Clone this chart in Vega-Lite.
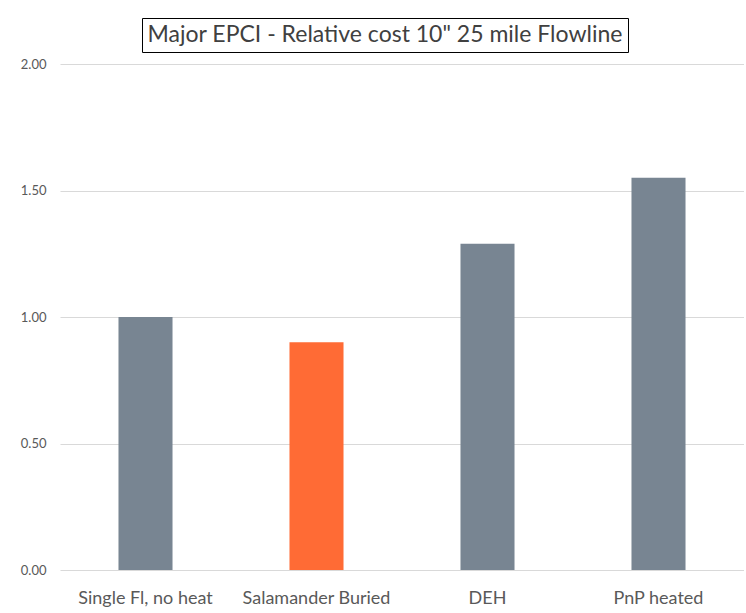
{
  "$schema": "https://vega.github.io/schema/vega-lite/v6.json",
  "padding": {"left": 20, "top": 17, "right": 0, "bottom": 0},
  "background": "white",
  "config": {"font": "Lato", "view": {"stroke": null}},
  "spacing": 5,
  "vconcat": [
    {
      "spacing": 10,
      "hconcat": [
        {
          "width": 71,
          "height": 34,
          "data": {"values": []},
          "mark": {"type": "text"},
          "encoding": {}
        },
        {
          "width": 486,
          "height": 34,
          "view": {"stroke": "#000000", "strokeWidth": 1},
          "data": {"values": [{"title": "Major EPCI - Relative cost 10\" 25 mile Flowline"}]},
          "mark": {"type": "text", "font": "Lato", "fontSize": 23, "color": "#404040", "align": "center", "baseline": "middle"},
          "encoding": {"text": {"field": "title"}}
        }
      ]
    },
    {
      "width": 684,
      "height": 506,
      "data": {"values": [
        {"option": "Single Fl, no heat", "cost": 1.00, "highlight": "no"},
        {"option": "Salamander Buried", "cost": 0.90, "highlight": "yes"},
        {"option": "DEH", "cost": 1.29, "highlight": "no"},
        {"option": "PnP heated", "cost": 1.55, "highlight": "no"}
      ]},
      "mark": {"type": "bar"},
      "encoding": {
        "x": {
          "field": "option", "type": "nominal", "sort": null,
          "scale": {"paddingInner": 0.684, "paddingOuter": 0.342},
          "axis": {"title": null, "labelAngle": 0, "domain": false, "ticks": false, "labelFontSize": 18, "labelColor": "#595959", "labelPadding": 19, "labelFont": "Lato"}
        },
        "y": {
          "field": "cost", "type": "quantitative",
          "scale": {"domain": [0, 2], "nice": false},
          "axis": {"title": null, "values": [0, 0.5, 1, 1.5, 2], "format": ".2f", "domain": false, "ticks": false, "labelFontSize": 13, "labelColor": "#595959", "labelPadding": 14, "gridColor": "#d9d9d9", "gridWidth": 1, "labelFont": "Lato"}
        },
        "color": {
          "field": "highlight", "type": "nominal",
          "scale": {"domain": ["no", "yes"], "range": ["#788592", "#FF6B35"]},
          "legend": null
        }
      }
    }
  ]
}
